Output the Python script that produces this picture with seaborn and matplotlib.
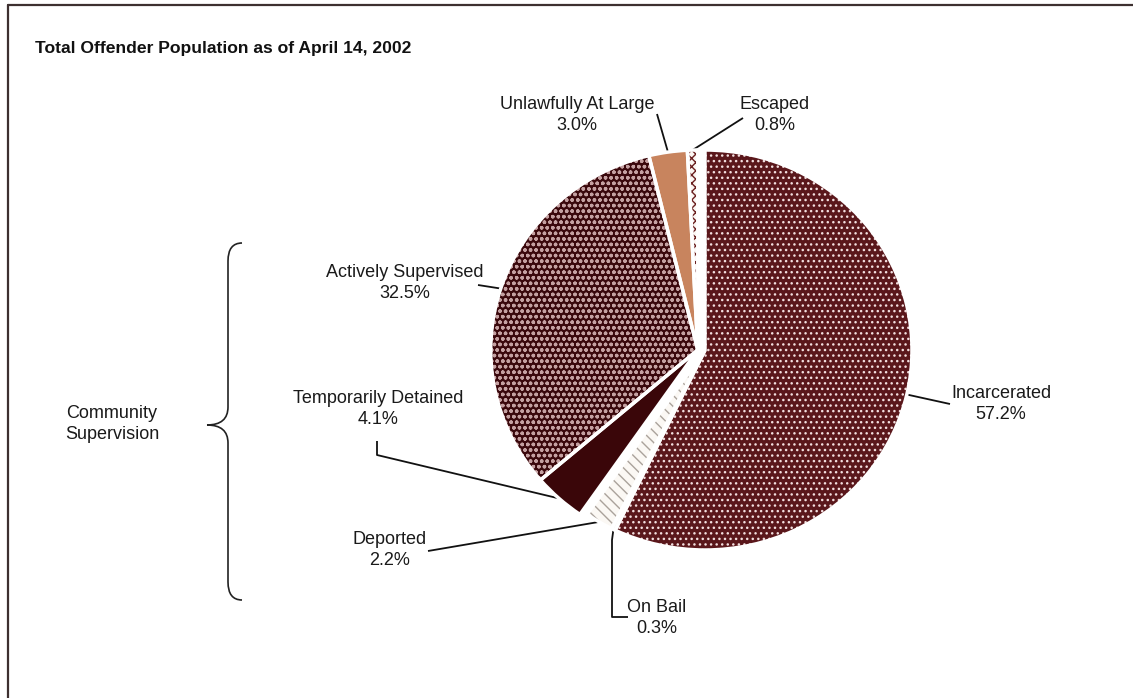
import numpy as np
import matplotlib
matplotlib.use("Agg")
import matplotlib.pyplot as plt
from matplotlib.path import Path
from matplotlib.patches import PathPatch
import seaborn as sns

# Offender population shares, listed clockwise from 12 o'clock
categories = ["Incarcerated", "On Bail", "Deported", "Temporarily Detained",
              "Actively Supervised", "Unlawfully At Large", "Escaped"]
shares = [57.2, 0.3, 2.2, 4.1, 32.5, 3.0, 0.8]
pct_labels = ["57.2%", "0.3%", "2.2%", "4.1%", "32.5%", "3.0%", "0.8%"]

title = "Total Offender Population as of April 14, 2002"
group_label = "Community\nSupervision"

sns.set_theme(style="white")
plt.rcParams["font.family"] = ["Liberation Sans Narrow", "Liberation Sans", "DejaVu Sans"]
plt.rcParams["hatch.linewidth"] = 1.0

W, H = 1133, 698
fig = plt.figure(figsize=(W / 100, H / 100), dpi=100)
fig.patch.set_facecolor("white")

# pixel-unit overlay for annotations
ov = fig.add_axes([0, 0, 1, 1])
ov.set_xlim(0, W)
ov.set_ylim(H, 0)
ov.axis("off")

# pie axes
cx, cy, rx, ry = 705, 350, 207, 200
pad = 1.3
ax = fig.add_axes([(cx - rx * pad) / W, (H - cy - ry * pad) / H,
                   2 * rx * pad / W, 2 * ry * pad / H])

face = ["#5a171b", "#f1ece7", "#fbf8f4", "#3a0609", "#3a080c", "#c8845e", "#fbf6f2"]
hatches = ["...", "", "\\\\\\", "", "ooo", "", "xxxx"]
hatch_col = ["#f2dede", "#bdb5ad", "#aaa29b", "#3a0609", "#c4a0a1", "#c8845e", "#6a2020"]
shift_x = [0, 0, 0, -0.035, -0.035, -0.035, -0.035]

pie_kw = dict(startangle=90, counterclock=False, radius=1.0)
base, _ = ax.pie(shares, colors=face, wedgeprops=dict(linewidth=0), **pie_kw)
hat, _ = ax.pie(shares, colors=face, wedgeprops=dict(linewidth=0), **pie_kw)
edge, _ = ax.pie(shares, colors=face, wedgeprops=dict(linewidth=2.5, edgecolor="white"), **pie_kw)

for i in range(len(shares)):
    for w in (base[i], hat[i], edge[i]):
        w.set_center((shift_x[i], 0))
    hat[i].set_facecolor("none")
    hat[i].set_edgecolor(hatch_col[i])
    hat[i].set_hatch(hatches[i])
    hat[i].set_linewidth(0)
    edge[i].set_facecolor("none")

ax.set_aspect("auto")
ax.set_xlim(-pad, pad)
ax.set_ylim(-pad, pad)
ax.axis("off")


def edge_point(i, r=1.0):
    w = base[i]
    a = np.deg2rad((w.theta1 + w.theta2) / 2)
    p = (w.center[0] + r * np.cos(a), w.center[1] + r * np.sin(a))
    disp = ax.transData.transform(p)
    return ov.transData.inverted().transform(disp)


# label text centres and leader start/elbow points (pixels)
label_xy = [(1001, 404), (657, 618), (390, 550), (378, 409),
            (405, 283), (577, 115), (775, 115)]
leader_pts = [[(950, 404)], [(628, 617), (612, 617), (612, 540)], [(428, 551)],
              [(377, 441), (377, 455)], [(478, 285)], [(657, 114)], [(743, 118)]]

for i, cat in enumerate(categories):
    x, y = label_xy[i]
    ov.text(x, y, f"{cat}\n{pct_labels[i]}", ha="center", va="center",
            fontsize=13, linespacing=1.35, color="#1a1a1a")
    pts = leader_pts[i] + [tuple(edge_point(i))]
    xs, ys = zip(*pts)
    ov.plot(xs, ys, color="#111111", lw=1.3, solid_capstyle="butt")

# title
ov.text(35, 49, title, ha="left", va="center", fontsize=12.6, fontweight="bold",
        color="#111111")

# curly brace grouping the community supervision categories
bx, tip_x, top, mid, bot, end_x = 228, 207, 243, 425, 600, 242
verts = [(end_x, top), (bx, top), (bx, top + 18), (bx, mid - 18), (bx, mid), (tip_x, mid),
         (bx, mid), (bx, mid + 18), (bx, bot - 18), (bx, bot), (end_x, bot)]
codes = [Path.MOVETO, Path.CURVE3, Path.CURVE3, Path.LINETO, Path.CURVE3, Path.CURVE3,
         Path.CURVE3, Path.CURVE3, Path.LINETO, Path.CURVE3, Path.CURVE3]
ov.add_patch(PathPatch(Path(verts, codes), facecolor="none", edgecolor="#222222", lw=1.2))
ov.text(112, 424, group_label, ha="center", va="center", fontsize=13,
        linespacing=1.35, color="#1a1a1a")

# frame
ov.plot([8, 8], [5, H], color="#3d3030", lw=1.6)
ov.plot([8, W], [5, 5], color="#3d3030", lw=1.6)

fig.savefig("out.png", dpi=100, facecolor="white")
